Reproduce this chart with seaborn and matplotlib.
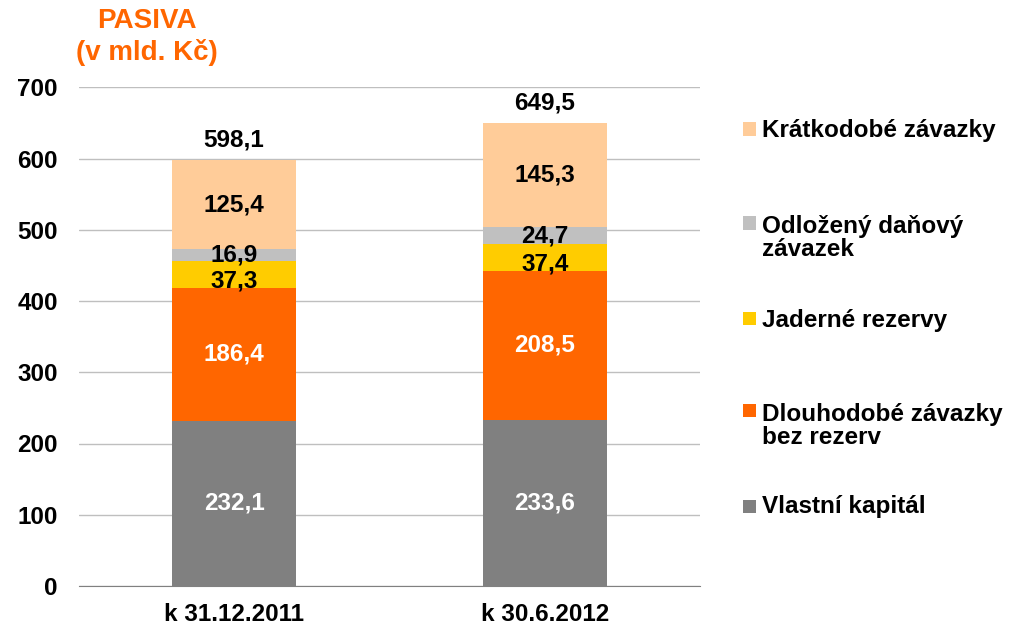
import numpy as np
import pandas as pd
import seaborn as sns
from matplotlib import pyplot as plt
from matplotlib.patches import Rectangle

# Data (bn CZK)
dates = ["k 31.12.2011", "k 30.6.2012"]
vlastni_kapital = [232.1, 233.6]
dlouhodobe = [186.4, 208.5]
jaderne = [37.3, 37.4]
odlozeny = [16.9, 24.7]
kratkodobe = [125.4, 145.3]
totals = [598.1, 649.5]

series_names = ["Vlastní kapitál", "Dlouhodobé závazky\nbez rezerv", "Jaderné rezervy",
                "Odložený daňový\nzávazek", "Krátkodobé závazky"]
series_values = [vlastni_kapital, dlouhodobe, jaderne, odlozeny, kratkodobe]
colors = ["#808080", "#FF6600", "#FFCC00", "#C0C0C0", "#FFCC99"]
label_colors = ["white", "white", "black", "black", "black"]
# the thin yellow segment's label sits a little lower, as in the original
label_nudge = [0, 0, -9, 0, 0]

sns.set_style("white")
plt.rcParams["font.family"] = ["Liberation Sans", "DejaVu Sans"]
plt.rcParams["font.weight"] = "bold"
plt.rcParams["text.color"] = "black"

W, H = 1009, 625
fig = plt.figure(figsize=(W / 100, H / 100), dpi=100)
ax = fig.add_axes([0.078, 0.0624, 0.616, 0.798])

bottom = np.zeros(len(dates))
for name, vals, col, lc, nudge in zip(series_names, series_values, colors,
                                      label_colors, label_nudge):
    sns.barplot(x=dates, y=vals, bottom=bottom, color=col, width=0.4,
                saturation=1, linewidth=0, ax=ax, zorder=3)
    for i, v in enumerate(vals):
        ax.text(i, bottom[i] + v / 2 + nudge, f"{v:.1f}".replace(".", ","),
                ha="center", va="center", fontsize=17.5, fontweight="bold",
                color=lc, zorder=4)
    bottom = bottom + np.array(vals)

for i, t in enumerate(totals):
    ax.text(i, t + 12, f"{t:.1f}".replace(".", ","), ha="center", va="bottom",
            fontsize=17.5, fontweight="bold", color="black")

ax.set_ylim(0, 700)
ax.set_yticks(range(0, 701, 100))
ax.set_xlim(-0.5, 1.5)
ax.yaxis.grid(True, color="#BFBFBF", linewidth=1)
ax.set_axisbelow(True)
for s in ["top", "right", "left"]:
    ax.spines[s].set_visible(False)
ax.spines["bottom"].set_color("#808080")
ax.tick_params(axis="both", length=0, labelsize=17.5, labelcolor="black")
ax.tick_params(axis="x", pad=12)
ax.tick_params(axis="y", pad=15)
for lab in ax.get_xticklabels() + ax.get_yticklabels():
    lab.set_fontweight("bold")
ax.set_xlabel("")
ax.set_ylabel("")

fig.text(147 / W, 1 - 37 / H, "PASIVA\n(v mld. Kč)", ha="center", va="center",
         fontsize=20, fontweight="bold", color="#FF6600", linespacing=1.2)

# Legend drawn by hand: marker aligned with the first line of each label
marker_y = [506, 410, 318, 223, 129]
text_y = [507, 426, 320, 238, 131]
for name, col, my, ty in zip(series_names, colors, marker_y, text_y):
    fig.patches.append(Rectangle((743 / W, 1 - (my + 6.5) / H), 13 / W, 13 / H,
                                 facecolor=col, edgecolor="none",
                                 transform=fig.transFigure, figure=fig))
    fig.text(762 / W, 1 - ty / H, name, ha="left", va="center", fontsize=17.5,
             fontweight="bold", color="black", linespacing=1.05)

fig.savefig("out.png", dpi=100)
